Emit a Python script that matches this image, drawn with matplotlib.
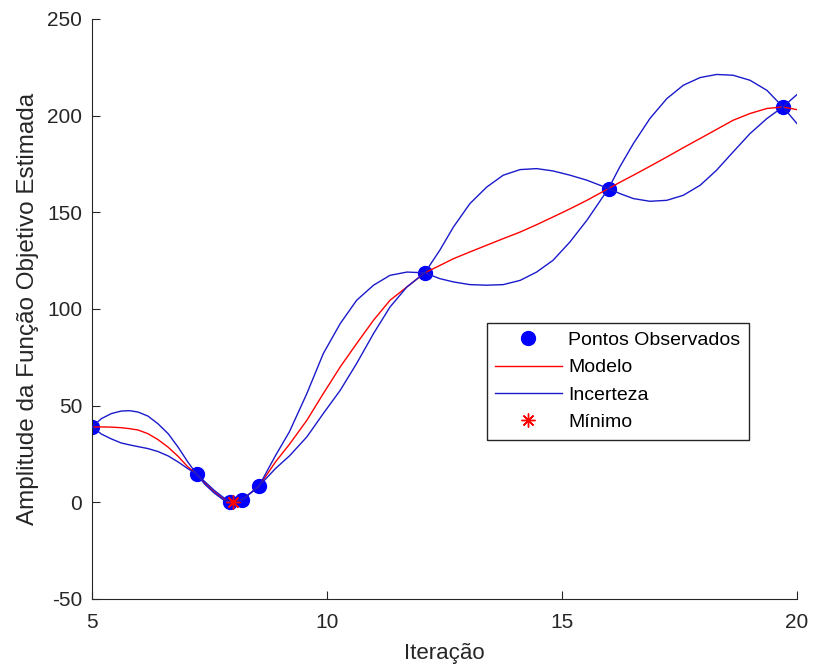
import matplotlib
matplotlib.use("Agg")
import matplotlib.pyplot as plt

plt.rcParams['font.family'] = ['Liberation Sans', 'DejaVu Sans']
plt.rcParams['axes.unicode_minus'] = False

# observed points
obs_x = [5.0, 7.23, 7.94, 8.19, 8.55, 12.08, 15.99, 19.70]
obs_y = [39.0, 14.5, 0.2, 1.2, 8.3, 118.7, 162.3, 204.5]

# minimum found
min_x = [7.99]
min_y = [0.0]

# model mean + uncertainty envelope
curve_x = [5.0, 5.2, 5.41, 5.62, 5.80, 5.98, 6.19, 6.40, 6.62, 6.83, 7.04, 7.23,
           7.4, 7.6, 7.8, 7.94, 8.19, 8.55,
           8.75, 8.9, 9.2, 9.57, 9.92, 10.28, 10.63, 10.99, 11.34, 11.70, 12.08,
           12.40, 12.69, 13.04, 13.40, 13.75, 14.11, 14.46, 14.81, 15.17, 15.53,
           15.99, 16.23, 16.52, 16.87, 17.23, 17.58, 17.94, 18.29, 18.64, 19.0,
           19.36, 19.70, 20.0]
model_y = [39, 39, 38.9, 38.6, 38.1, 37.4, 35.5, 32.5, 28.5, 23.8, 18.3, 14.5,
           10, 5.5, 1.8, 0.2, 1.2, 8.3,
           15.4, 20.8, 30, 42.4, 56.2, 70, 82.1, 94.2, 104.5, 111.4, 118.7,
           122.5, 126, 129.5, 133, 136.4, 139.8, 143.6, 147.6, 151.8, 156.2,
           162.3, 165.5, 169.2, 173.8, 178.6, 183.4, 188.2, 192.9, 197.6, 201.1,
           203.7, 204.5, 203.1]
upper_y = [39, 43.3, 45.9, 47.2, 47.4, 46.7, 44.6, 40.7, 35.5, 28.6, 20.8, 14.5,
           10.7, 6.2, 2.4, 0.2, 1.2, 8.3,
           17.3, 24, 36.5, 56.2, 76.9, 92.4, 104.5, 112.3, 117.4, 119.1, 118.7,
           130.4, 142.4, 154.5, 163.1, 169.2, 172.1, 172.6, 171.4, 169.2, 166.6,
           162.3, 173.5, 185.6, 198.5, 208.8, 215.7, 219.7, 221.3, 220.9, 218.3,
           213.1, 204.5, 210.9]
lower_y = [39, 35.3, 32.8, 30.7, 29.7, 28.8, 27.8, 26.3, 24.0, 20.9, 17.4, 14.5,
           9.3, 4.8, 1.2, 0.2, 1.2, 8.3,
           13.5, 17.4, 24, 33.8, 45.9, 57.9, 71.8, 87.3, 101, 111.4, 118.7,
           115.7, 114, 112.6, 112.3, 112.6, 114.8, 119.1, 125.2, 134.7, 145.9,
           162.3, 159.7, 157.1, 155.7, 156.2, 158.8, 164, 171.8, 181.2, 190.7,
           198.5, 204.5, 195.9]

fig = plt.figure(figsize=(8.13, 6.68), dpi=100)
ax = fig.add_axes([0.1132, 0.1033, 0.8671, 0.8683])

ax.plot(obs_x, obs_y, 'o', color='b', markersize=10, label='Pontos Observados', zorder=2)
ax.plot(curve_x, model_y, '-', color='r', lw=1.0, label='Modelo', zorder=3)
ax.plot(curve_x, upper_y, '-', color='#1a1acc', lw=1.0, label='Incerteza', zorder=3)
ax.plot(curve_x, lower_y, '-', color='#1a1acc', lw=1.0, zorder=3)
ax.plot(min_x, min_y, linestyle='none', marker=(8, 2, 0), color='r', markersize=10,
        markeredgewidth=1.0, label='Mínimo', zorder=4)

ax.set_xlim(5, 20)
ax.set_ylim(-50, 250)
ax.set_xticks([5, 10, 15, 20])
ax.set_yticks([-50, 0, 50, 100, 150, 200, 250])

ax.spines['top'].set_visible(False)
ax.spines['right'].set_visible(False)
for s in ['left', 'bottom']:
    ax.spines[s].set_color('#262626')
ax.tick_params(direction='in', length=6, colors='#262626', labelsize=15)
ax.tick_params(axis='x', pad=10)
ax.tick_params(axis='y', pad=7)

ax.set_xlabel('Iteração', fontsize=16, color='#262626', labelpad=8)
ax.set_ylabel('Amplitude da Função Objetivo Estimada', fontsize=17.5,
              color='#262626', labelpad=6)

leg = ax.legend(loc='upper left', bbox_to_anchor=(0.546, 0.493), fontsize=14,
                fancybox=False, framealpha=1, edgecolor='#262626',
                handlelength=3.4, handletextpad=0.35, labelspacing=0.5,
                borderpad=0.45)
leg.get_frame().set_linewidth(1.0)

plt.savefig('out.png', dpi=100)
